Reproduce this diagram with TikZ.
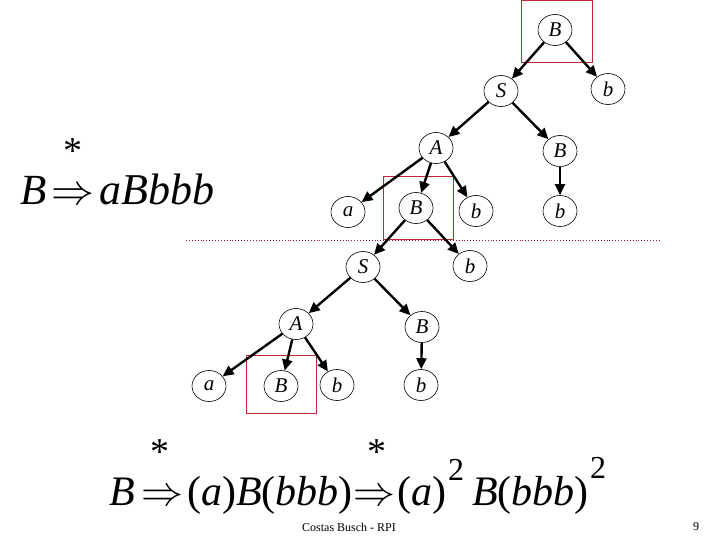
\RequirePackage{fix-cm}
\documentclass[tikz,border=0pt]{standalone}
\usepackage{fontspec}
\setmainfont{Liberation Serif}
\usetikzlibrary{arrows.meta,shapes.geometric}
\definecolor{boxred}{RGB}{190,40,50}
\definecolor{dotred}{RGB}{150,30,40}
\newcommand{\dimp}{$\Rightarrow$}
\tikzset{
  tn/.style={ellipse,draw,line width=0.6pt,minimum width=34pt,minimum height=31pt,inner sep=0pt,font=\fontsize{21}{21}\selectfont\itshape},
  edge/.style={line width=2.4pt,-{Triangle[length=11pt,width=10pt]}},
  redbox/.style={draw=boxred,line width=0.8pt},
  star/.style={font=\fontsize{38}{38}\selectfont,inner sep=0pt,anchor=base},
  eqa/.style={font=\fontsize{43}{43}\selectfont,inner sep=0pt,anchor=base west},
  eqb/.style={font=\fontsize{42}{42}\selectfont,inner sep=0pt,anchor=base west},
  sup/.style={font=\fontsize{32}{32}\selectfont,inner sep=0pt,anchor=base west},
}
\begin{document}
\begin{tikzpicture}[x=1pt,y=-1pt]
\useasboundingbox[fill=white] (0,0) rectangle (720,540);
% red boxes
\draw[redbox] (521,0) rectangle (592,62);
\draw[redbox] (383,176) rectangle (453,239);
\draw[redbox] (246,355) rectangle (316,413);
% dotted line
\coordinate (dl) at (186,240);
\coordinate (dr) at (660,240);
\draw[dotred,dotted,line width=0.9pt] (dl) -- (dr);
% top tree
\node[tn] (B0) at (555,30) {B};
\node[tn] (b1) at (608,89) {b};
\node[tn] (S1) at (501,91) {S};
\node[tn] (A1) at (436,148) {A};
\node[tn] (B2) at (560,151) {B};
\node[tn] (a1) at (348,212) {a};
\node[tn] (B3) at (416,208) {B};
\node[tn] (b2) at (476,211) {b};
\node[tn] (b3) at (560,211) {b};
% bottom tree
\node[tn] (b4) at (470,266) {b};
\node[tn] (S2) at (363,267) {S};
\node[tn] (A2) at (296,324) {A};
\node[tn] (B4) at (422,327) {B};
\node[tn] (a2) at (209,386) {a};
\node[tn] (B5) at (281,386) {B};
\node[tn] (b5) at (337,385) {b};
\node[tn] (b6) at (421,385) {b};
% edges
\draw[edge] (B0) -- (S1);
\draw[edge] (B0) -- (b1);
\draw[edge] (S1) -- (A1);
\draw[edge] (S1) -- (B2);
\draw[edge] (A1) -- (a1);
\draw[edge] (A1) -- (B3);
\draw[edge] (A1) -- (b2);
\draw[edge] (B2) -- (b3);
\draw[edge] (B3) -- (S2);
\draw[edge] (B3) -- (b4);
\draw[edge] (S2) -- (A2);
\draw[edge] (S2) -- (B4);
\draw[edge] (A2) -- (a2);
\draw[edge] (A2) -- (B5);
\draw[edge] (A2) -- (b5);
\draw[edge] (B4) -- (b6);
% equation 1
\node[star] (s1) at (73,164) {*};
\node[eqa] (e1a) at (20,205) {\itshape B};
\node[eqa] (e1b) at (51,205) {\dimp};
\node[eqa,font=\fontsize{44}{44}\selectfont] (e1c) at (99,205) {\itshape aBbbb};
% equation 2
\node[star] (s2) at (160,464) {*};
\node[star] (s3) at (377,464) {*};
\node[eqb] (e2a) at (109,505) {\itshape B};
\node[eqb] (e2b) at (141,505) {\dimp};
\node[eqb] (e2c) at (187,505) {(\textit{a})\textit{B}(\textit{bbb})};
\node[eqb] (e2d) at (353,505) {\dimp};
\node[eqb] (e2e) at (397,505) {(\textit{a})};
\node[sup] (e2f) at (448,480) {2};
\node[eqb] (e2g) at (472,505) {\textit{B}(\textit{bbb})};
\node[sup] (e2h) at (590,478) {2};
% footer
\node[font=\fontsize{12}{12}\selectfont,inner sep=0pt] (ft) at (349,527) {Costas Busch - RPI};
\node[font=\fontsize{12}{12}\selectfont,inner sep=0pt] (pg) at (696,527) {9};
\end{tikzpicture}
\end{document}
